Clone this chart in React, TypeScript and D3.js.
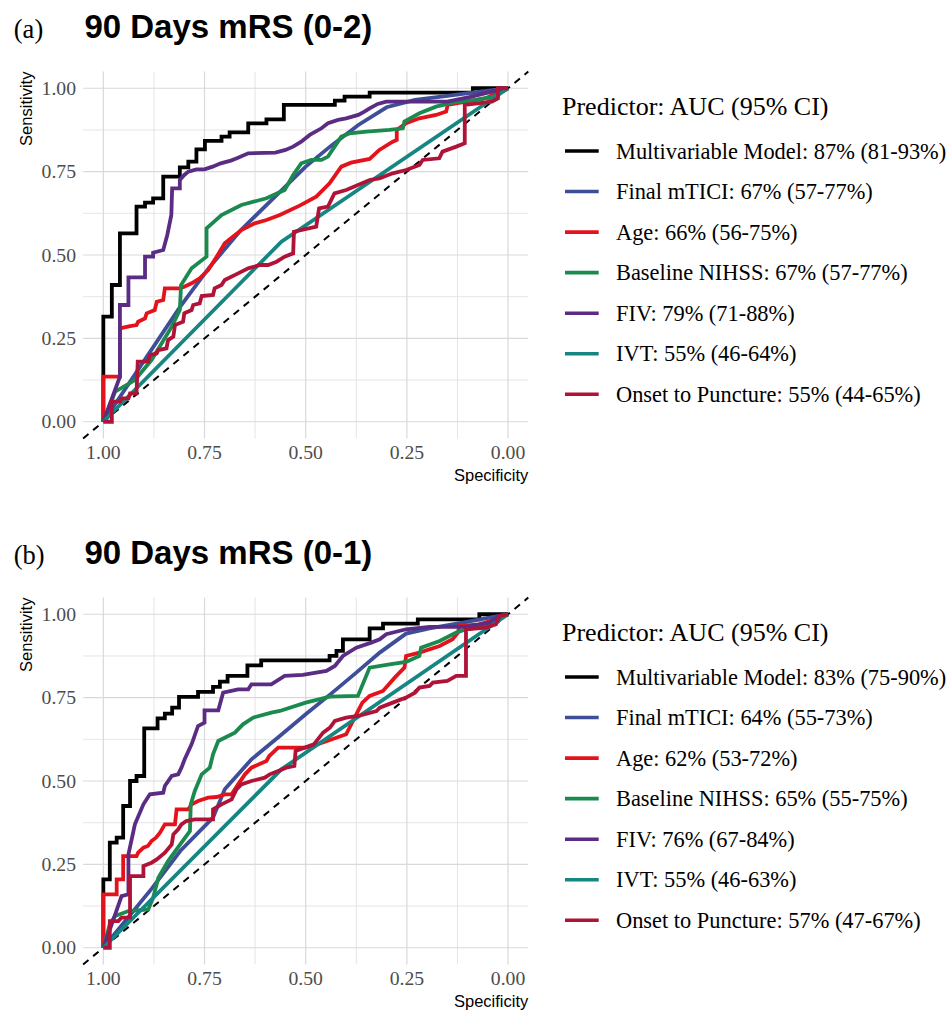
import React from "react";
import * as d3 from "d3";

const W = 949;
const H = 1011;
const SERIF = "'Liberation Serif', 'Times New Roman', serif";
const SANS = "'Liberation Sans', Arial, sans-serif";

const predictors = [
  "Multivariable Model",
  "Final mTICI",
  "Age",
  "Baseline NIHSS",
  "FIV",
  "IVT",
  "Onset to Puncture",
];
const colors = ["#000000", "#3E4E98", "#E4131B", "#1A8A4F", "#5B2C83", "#178582", "#B01338"];
const aucA = ["87% (81-93%)", "67% (57-77%)", "66% (56-75%)", "67% (57-77%)", "79% (71-88%)", "55% (46-64%)", "55% (44-65%)"];
const aucB = ["83% (75-90%)", "64% (55-73%)", "62% (53-72%)", "65% (55-75%)", "76% (67-84%)", "55% (46-63%)", "57% (47-67%)"];
const majorTicks = [1, 0.75, 0.5, 0.25, 0];
const minorTicks = [0.875, 0.625, 0.375, 0.125];

// ROC points as [1 - specificity, sensitivity]
// (a) 90 days mRS 0-2
const aMulti = [[0,0],[0,0.315],[0.021,0.315],[0.021,0.41],[0.041,0.41],[0.041,0.565],[0.082,0.565],[0.082,0.645],[0.103,0.645],[0.103,0.657],[0.123,0.657],[0.123,0.67],[0.148,0.67],[0.148,0.735],[0.189,0.735],[0.189,0.763],[0.21,0.763],[0.21,0.78],[0.23,0.78],[0.23,0.817],[0.251,0.817],[0.251,0.842],[0.292,0.842],[0.292,0.855],[0.312,0.855],[0.312,0.868],[0.358,0.868],[0.358,0.895],[0.403,0.895],[0.403,0.907],[0.446,0.907],[0.446,0.95],[0.572,0.95],[0.572,0.963],[0.596,0.963],[0.596,0.975],[0.658,0.975],[0.658,0.987],[0.913,0.987],[0.913,1],[1,1]];
const aTici = [[0,0],[0.19,0.345],[0.26,0.46],[0.34,0.575],[0.42,0.67],[0.5,0.765],[0.56,0.825],[0.63,0.89],[0.7,0.943],[0.77,0.965],[0.85,0.977],[0.93,0.99],[1,1]];
const aAge = [[0,0],[0,0.135],[0.041,0.135],[0.041,0.28],[0.066,0.287],[0.082,0.29],[0.086,0.3],[0.103,0.31],[0.107,0.325],[0.127,0.335],[0.132,0.36],[0.148,0.365],[0.152,0.4],[0.189,0.4],[0.2,0.405],[0.218,0.415],[0.238,0.43],[0.259,0.455],[0.28,0.495],[0.3,0.535],[0.32,0.555],[0.341,0.575],[0.374,0.595],[0.403,0.605],[0.436,0.62],[0.485,0.648],[0.526,0.675],[0.559,0.715],[0.588,0.765],[0.612,0.777],[0.658,0.788],[0.682,0.815],[0.715,0.84],[0.725,0.845],[0.725,0.875],[0.748,0.895],[0.781,0.91],[0.822,0.92],[0.847,0.93],[0.851,0.95],[0.896,0.96],[0.946,0.97],[0.97,0.985],[1,1]];
const aNihss = [[0,0],[0.029,0.09],[0.078,0.125],[0.119,0.185],[0.169,0.285],[0.189,0.335],[0.192,0.41],[0.218,0.46],[0.255,0.495],[0.255,0.58],[0.292,0.62],[0.341,0.65],[0.403,0.67],[0.448,0.695],[0.469,0.74],[0.489,0.775],[0.514,0.785],[0.539,0.785],[0.555,0.795],[0.588,0.855],[0.609,0.865],[0.65,0.87],[0.707,0.875],[0.74,0.88],[0.744,0.9],[0.781,0.925],[0.822,0.945],[0.863,0.957],[0.921,0.965],[0.962,0.975],[1,1]];
const aFiv = [[0,0],[0.041,0.135],[0.041,0.35],[0.062,0.35],[0.062,0.433],[0.103,0.433],[0.103,0.495],[0.123,0.495],[0.123,0.507],[0.148,0.515],[0.158,0.56],[0.168,0.62],[0.17,0.7],[0.189,0.7],[0.189,0.725],[0.2,0.74],[0.21,0.75],[0.23,0.757],[0.25,0.757],[0.27,0.765],[0.29,0.775],[0.315,0.783],[0.33,0.79],[0.358,0.805],[0.425,0.807],[0.45,0.815],[0.469,0.825],[0.489,0.84],[0.51,0.86],[0.539,0.88],[0.555,0.895],[0.58,0.905],[0.6,0.91],[0.63,0.92],[0.645,0.93],[0.658,0.94],[0.678,0.953],[0.699,0.96],[0.85,0.96],[0.91,0.975],[0.96,0.99],[1,1]];
const aIvt = [[0,0],[0.44,0.54],[1,1]];
const aOnset = [[0,0],[0.021,0],[0.021,0.06],[0.041,0.06],[0.045,0.07],[0.062,0.07],[0.066,0.085],[0.082,0.085],[0.085,0.18],[0.111,0.18],[0.115,0.2],[0.132,0.205],[0.136,0.215],[0.156,0.22],[0.16,0.245],[0.173,0.255],[0.177,0.29],[0.197,0.3],[0.2,0.325],[0.218,0.335],[0.222,0.35],[0.238,0.355],[0.243,0.377],[0.271,0.38],[0.275,0.4],[0.292,0.41],[0.3,0.425],[0.333,0.445],[0.358,0.46],[0.387,0.47],[0.407,0.47],[0.428,0.48],[0.448,0.495],[0.469,0.505],[0.471,0.57],[0.526,0.585],[0.533,0.64],[0.555,0.645],[0.571,0.685],[0.6,0.695],[0.658,0.725],[0.682,0.73],[0.715,0.745],[0.748,0.755],[0.781,0.77],[0.789,0.785],[0.83,0.79],[0.838,0.81],[0.872,0.825],[0.893,0.835],[0.893,0.95],[0.96,0.96],[0.975,0.97],[0.975,1],[1,1]];

// (b) 90 days mRS 0-1
const bMulti = [[0,0],[0,0.205],[0.016,0.205],[0.016,0.315],[0.033,0.315],[0.033,0.33],[0.049,0.33],[0.049,0.425],[0.066,0.425],[0.066,0.5],[0.082,0.5],[0.082,0.515],[0.101,0.515],[0.101,0.658],[0.134,0.658],[0.134,0.688],[0.152,0.688],[0.152,0.702],[0.17,0.702],[0.17,0.72],[0.187,0.72],[0.187,0.752],[0.234,0.752],[0.234,0.767],[0.271,0.767],[0.271,0.782],[0.288,0.782],[0.288,0.798],[0.307,0.798],[0.307,0.815],[0.356,0.815],[0.356,0.847],[0.39,0.847],[0.39,0.862],[0.559,0.862],[0.559,0.875],[0.576,0.875],[0.576,0.89],[0.592,0.89],[0.592,0.925],[0.658,0.925],[0.658,0.958],[0.691,0.958],[0.691,0.972],[0.777,0.972],[0.777,0.985],[0.929,0.985],[0.929,1],[1,1]];
const bTici = [[0,0],[0.12,0.178],[0.19,0.29],[0.271,0.39],[0.3,0.475],[0.366,0.565],[0.436,0.635],[0.5,0.7],[0.563,0.762],[0.625,0.825],[0.683,0.885],[0.748,0.942],[0.806,0.958],[0.888,0.975],[0.954,0.99],[1,1]];
const bAge = [[0,0],[0,0.16],[0.033,0.16],[0.033,0.205],[0.049,0.205],[0.049,0.275],[0.082,0.275],[0.086,0.285],[0.099,0.3],[0.11,0.305],[0.119,0.32],[0.13,0.33],[0.14,0.345],[0.152,0.37],[0.177,0.37],[0.181,0.415],[0.21,0.415],[0.218,0.43],[0.234,0.44],[0.259,0.45],[0.28,0.452],[0.3,0.46],[0.317,0.46],[0.333,0.49],[0.35,0.52],[0.366,0.54],[0.403,0.56],[0.41,0.575],[0.432,0.6],[0.5,0.6],[0.518,0.605],[0.6,0.64],[0.625,0.7],[0.64,0.735],[0.658,0.755],[0.691,0.77],[0.72,0.81],[0.744,0.84],[0.748,0.875],[0.781,0.885],[0.831,0.905],[0.863,0.925],[0.876,0.945],[0.88,0.965],[0.929,0.97],[0.97,0.985],[1,1]];
const bNihss = [[0,0],[0.016,0.07],[0.029,0.095],[0.062,0.11],[0.111,0.115],[0.123,0.15],[0.136,0.21],[0.16,0.26],[0.193,0.315],[0.214,0.35],[0.216,0.43],[0.226,0.47],[0.243,0.52],[0.263,0.54],[0.271,0.58],[0.284,0.62],[0.325,0.645],[0.345,0.67],[0.37,0.69],[0.415,0.705],[0.436,0.71],[0.5,0.735],[0.559,0.753],[0.629,0.755],[0.658,0.84],[0.707,0.85],[0.748,0.857],[0.781,0.875],[0.785,0.9],[0.831,0.92],[0.872,0.945],[0.896,0.955],[0.946,0.965],[0.979,0.99],[1,1]];
const bFiv = [[0,0],[0.025,0.085],[0.045,0.155],[0.062,0.16],[0.062,0.28],[0.078,0.37],[0.099,0.43],[0.115,0.46],[0.148,0.465],[0.152,0.485],[0.169,0.515],[0.185,0.52],[0.193,0.54],[0.201,0.565],[0.218,0.61],[0.234,0.665],[0.25,0.675],[0.25,0.712],[0.284,0.712],[0.296,0.765],[0.333,0.775],[0.358,0.775],[0.366,0.79],[0.415,0.79],[0.448,0.815],[0.493,0.818],[0.551,0.83],[0.572,0.845],[0.592,0.875],[0.625,0.9],[0.662,0.915],[0.683,0.925],[0.699,0.94],[0.748,0.955],[0.806,0.962],[0.896,0.962],[0.954,0.975],[0.979,0.995],[1,1]];
const bIvt = [[0,0],[0.44,0.535],[1,1]];
const bOnset = [[0,0],[0.016,0],[0.016,0.08],[0.037,0.08],[0.045,0.09],[0.066,0.09],[0.066,0.215],[0.099,0.215],[0.099,0.245],[0.119,0.255],[0.132,0.265],[0.152,0.285],[0.169,0.31],[0.173,0.34],[0.185,0.355],[0.193,0.37],[0.205,0.38],[0.226,0.385],[0.271,0.385],[0.271,0.415],[0.292,0.43],[0.317,0.445],[0.329,0.475],[0.341,0.49],[0.366,0.5],[0.399,0.51],[0.411,0.52],[0.432,0.53],[0.452,0.54],[0.472,0.545],[0.475,0.59],[0.52,0.61],[0.543,0.645],[0.56,0.66],[0.572,0.68],[0.6,0.69],[0.63,0.695],[0.675,0.71],[0.683,0.72],[0.715,0.735],[0.748,0.75],[0.77,0.765],[0.781,0.78],[0.806,0.785],[0.814,0.795],[0.85,0.8],[0.872,0.815],[0.896,0.815],[0.896,0.955],[0.946,0.96],[0.97,0.97],[0.979,0.995],[1,1]];

const curvesA = [aMulti, aTici, aAge, aNihss, aFiv, aIvt, aOnset];
const curvesB = [bMulti, bTici, bAge, bNihss, bFiv, bIvt, bOnset];

const fmt = d3.format(".2f");

function Panel({ top, tag, title, curves, auc }: any) {
  const x = d3.scaleLinear().domain([1.05, -0.05]).range([83.1, 528.3]);
  const y = d3.scaleLinear().domain([-0.05, 1.05]).range([top + 438.4, top + 71.6]);
  const line = d3
    .line<number[]>()
    .x((d) => x(1 - d[0]))
    .y((d) => y(d[1]));
  const [x0, x1] = x.range();
  const [y0, y1] = y.range();

  return (
    <g>
      {/* titles */}
      <text x={13.8} y={top + 38} fontFamily={SERIF} fontSize={26.5}>{tag}</text>
      <text x={84.4} y={top + 38} fontFamily={SANS} fontWeight="bold" fontSize={33}>{title}</text>

      {/* grid */}
      {minorTicks.map((t) => (
        <g key={"mn" + t} stroke="#e2e2e2" strokeWidth={0.9}>
          <line x1={x(t)} x2={x(t)} y1={y0} y2={y1} />
          <line x1={x0} x2={x1} y1={y(t)} y2={y(t)} />
        </g>
      ))}
      {majorTicks.map((t) => (
        <g key={"mj" + t} stroke="#d9d9d9" strokeWidth={1.2}>
          <line x1={x(t)} x2={x(t)} y1={y0} y2={y1} />
          <line x1={x0} x2={x1} y1={y(t)} y2={y(t)} />
        </g>
      ))}

      {/* chance line */}
      <line x1={x(1.05)} y1={y(-0.05)} x2={x(-0.05)} y2={y(1.05)} stroke="#000" strokeWidth={2} strokeDasharray="7 6" />

      {curves.map((c: number[][], i: number) => (
        <path key={i} d={line(c) || ""} fill="none" stroke={colors[i]} strokeWidth={3.8} strokeLinejoin="miter" />
      ))}

      {/* axes */}
      {majorTicks.map((t) => (
        <text key={"yl" + t} x={76} y={y(t)} dy="0.34em" textAnchor="end" fontFamily={SERIF} fontSize={19.7} fill="#4d4d4d">
          {fmt(t)}
        </text>
      ))}
      {majorTicks.map((t) => (
        <text key={"xl" + t} x={x(t)} y={top + 459} textAnchor="middle" fontFamily={SERIF} fontSize={19.7} fill="#4d4d4d">
          {fmt(t)}
        </text>
      ))}
      <text x={x1} y={top + 481} textAnchor="end" fontFamily={SANS} fontSize={16.5}>Specificity</text>
      <text transform={`translate(32,${y1}) rotate(-90)`} textAnchor="end" fontFamily={SANS} fontSize={16.5}>Sensitivity</text>

      {/* legend */}
      <text x={562} y={top + 115} fontFamily={SERIF} fontSize={26}>Predictor: AUC (95% CI)</text>
      {predictors.map((p, i) => {
        const ly = top + 151 + i * 40.55;
        return (
          <g key={p}>
            <line x1={565} x2={598.7} y1={ly} y2={ly} stroke={colors[i]} strokeWidth={3.6} />
            <text x={616} y={ly + 7.5} fontFamily={SERIF} fontSize={22.4}>{`${p}: ${auc[i]}`}</text>
          </g>
        );
      })}
    </g>
  );
}

export default function App() {
  return (
    <svg width={W} height={H} style={{ position: "absolute", left: 0, top: 0, background: "#fff" }}>
      <rect width={W} height={H} fill="#fff" />
      <Panel top={0} tag="(a)" title="90 Days mRS (0-2)" curves={curvesA} auc={aucA} />
      <Panel top={526} tag="(b)" title="90 Days mRS (0-1)" curves={curvesB} auc={aucB} />
    </svg>
  );
}
